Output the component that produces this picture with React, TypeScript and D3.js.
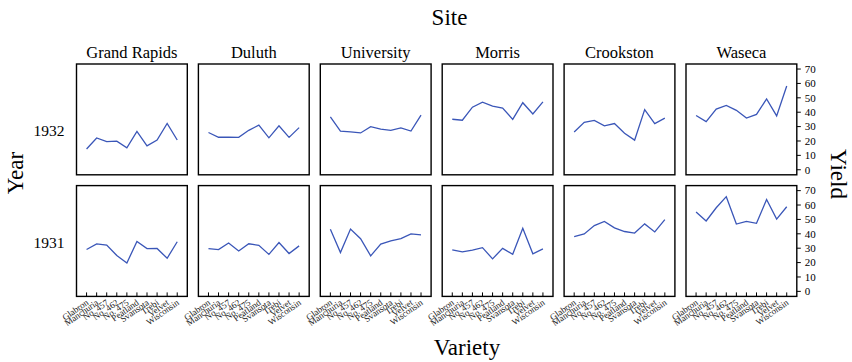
import React from "react";
import * as d3 from "d3";

const sites = ["Grand Rapids", "Duluth", "University", "Morris", "Crookston", "Waseca"];
const years = ["1932", "1931"];
const varieties = ["Glabron", "Manchuria", "No. 457", "No. 462", "No. 475", "Peatland", "Svansota", "Trebi", "Velvet", "Wisconsin"];
const yTicks = [0, 10, 20, 30, 40, 50, 60, 70];

// yields per site, in variety order
const yield1932: Record<string, number[]> = {
  "Grand Rapids": [14.4, 22.1, 19.5, 19.9, 15.2, 26.6, 16.6, 20.6, 32.2, 20.7],
  Duluth: [25.9, 22.6, 22.7, 22.5, 27.4, 31.0, 22.2, 30.6, 22.5, 29.3],
  University: [36.8, 26.9, 26.4, 25.6, 30.0, 28.2, 27.4, 29.1, 26.9, 38.0],
  Morris: [35.1, 34.4, 43.5, 47.0, 44.2, 42.9, 35.0, 46.6, 38.8, 47.2],
  Crookston: [26.2, 33.0, 34.3, 30.5, 32.1, 25.4, 20.6, 41.8, 32.1, 35.9],
  Waseca: [37.7, 33.5, 42.2, 44.7, 41.3, 35.9, 38.5, 49.2, 37.4, 58.2],
};
const yield1931: Record<string, number[]> = {
  "Grand Rapids": [29.1, 33.0, 32.2, 24.9, 19.7, 34.7, 29.7, 29.8, 23.0, 34.5],
  Duluth: [29.7, 29.0, 33.6, 28.1, 33.1, 32.0, 25.7, 33.9, 26.3, 31.6],
  University: [43.1, 27.0, 43.3, 36.6, 24.7, 32.8, 35.1, 36.6, 39.9, 39.3],
  Morris: [28.8, 27.4, 28.7, 30.4, 22.6, 29.9, 25.8, 43.8, 26.1, 29.5],
  Crookston: [38.1, 39.9, 45.7, 48.6, 44.1, 41.6, 40.5, 46.9, 41.3, 49.9],
  Waseca: [55.2, 48.9, 58.1, 65.8, 46.8, 48.6, 47.3, 63.8, 50.2, 58.8],
};

const FONT = "'Liberation Serif', 'Times New Roman', serif";
const LINE = "#3a56b8";

export default function App() {
  const W = 852, H = 362;
  const left0 = 76.5, pw = 110.8, pstep = 121.9;
  const tops = [64, 185.6];
  const ph = 110.8;

  const x = d3.scalePoint<string>().domain(varieties).range([0, pw]).padding(1);
  const y = d3.scaleLinear().domain([-3.5, 73.5]).range([ph, 0]);
  const line = d3
    .line<number>()
    .x((_, i) => x(varieties[i]) as number)
    .y((d) => y(d));

  return (
    <svg
      width={W}
      height={H}
      style={{ position: "absolute", left: 0, top: 0, background: "#fff" }}
      fontFamily={FONT}
    >
      <text x={449.5} y={25} fontSize={23} textAnchor="middle">Site</text>
      <text x={467} y={355} fontSize={23} textAnchor="middle">Variety</text>
      <text transform="translate(22.5,173) rotate(-90)" fontSize={23} textAnchor="middle">Year</text>
      <text transform="translate(831,174) rotate(90)" fontSize={23} textAnchor="middle">Yield</text>

      {sites.map((s, i) => (
        <text key={s} x={left0 + i * pstep + pw / 2} y={58} fontSize={16.5} textAnchor="middle">
          {s}
        </text>
      ))}
      {years.map((yr, r) => (
        <text key={yr} x={64.5} y={r === 0 ? 136 : 248} fontSize={15.5} textAnchor="end">
          {yr}
        </text>
      ))}

      {years.map((yr, r) =>
        sites.map((s, c) => {
          const data = (yr === "1932" ? yield1932 : yield1931)[s];
          const tx = left0 + c * pstep;
          const ty = tops[r];
          return (
            <g key={yr + s} transform={`translate(${tx},${ty})`}>
              <path d={line(data) || ""} fill="none" stroke={LINE} strokeWidth={1.3} />
              <rect x={0} y={0} width={pw} height={ph} fill="none" stroke="#000" strokeWidth={1.4} />
              {r === 1 &&
                varieties.map((v) => (
                  <g key={v} transform={`translate(${x(v)},${ph})`}>
                    <line y1={0} y2={-4} stroke="#000" strokeWidth={1} />
                    <text
                      transform="translate(2.5,7.5) rotate(-35)"
                      fontSize={9}
                      textAnchor="end"
                      fill="#222"
                    >
                      {v}
                    </text>
                  </g>
                ))}
              {c === sites.length - 1 &&
                yTicks.map((t) => (
                  <g key={t} transform={`translate(${pw},${y(t)})`}>
                    <line x1={0} x2={4} stroke="#000" strokeWidth={1} />
                    <text x={8} dy="0.35em" fontSize={11}>
                      {t}
                    </text>
                  </g>
                ))}
            </g>
          );
        })
      )}
    </svg>
  );
}
